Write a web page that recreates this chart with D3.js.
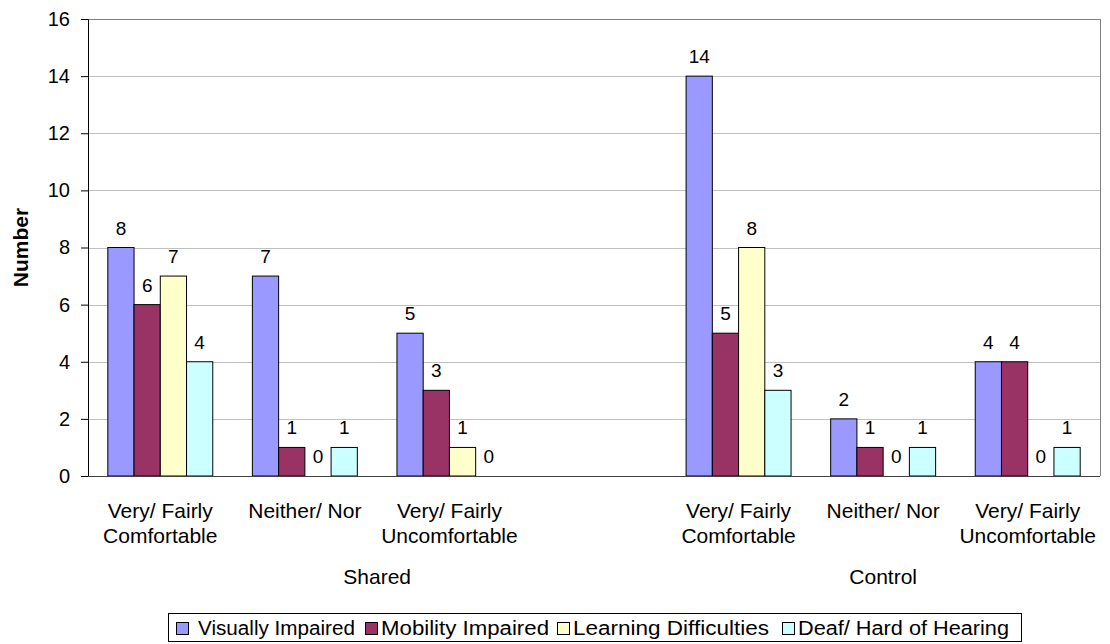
<!DOCTYPE html>
<html><head><meta charset="utf-8">
<script src="https://cdn.jsdelivr.net/npm/d3@7"></script>
<style>body{margin:0;background:#fff}svg{display:block;font-family:Arial,"Liberation Sans",sans-serif}</style>
</head><body><svg id="c" width="1110" height="644"></svg>
<script>
const categories = ["Very/ Fairly|Comfortable","Neither/ Nor","Very/ Fairly|Uncomfortable","","Very/ Fairly|Comfortable","Neither/ Nor","Very/ Fairly|Uncomfortable"];
const groups = ["Shared","Control"];
const groupSlots = [[0,3],[4,6]];
const seriesNames = ["Visually Impaired","Mobility Impaired","Learning Difficulties","Deaf/ Hard of Hearing"];
const visuallyImpaired = [8,7,5,null,14,2,4];
const mobilityImpaired = [6,1,3,null,5,1,4];
const learningDifficulties = [7,0,1,null,8,0,0];
const deafHardOfHearing = [4,1,0,null,3,1,1];
const yTicks = [0,2,4,6,8,10,12,14,16];
const colors = ["#9999FF","#993366","#FFFFCC","#CCFFFF"];

const seriesValues = [visuallyImpaired,mobilityImpaired,learningDifficulties,deafHardOfHearing];
const svg = d3.select("#c");
const L=88,R=1100,T=19,B=476;
const x0 = d3.scaleBand().domain(d3.range(categories.length)).range([L,R]).padding(0);
const x1 = d3.scaleBand().domain(d3.range(seriesNames.length)).range([0,x0.bandwidth()]).paddingInner(0).paddingOuter(0.755);
const y = d3.scaleLinear().domain([0,16]).range([B,T]);

// gridlines
svg.append("g").selectAll("line").data(yTicks.filter(d=>d>0)).join("line")
  .attr("x1",L).attr("x2",R).attr("y1",d=>Math.round(y(d))+0.5).attr("y2",d=>Math.round(y(d))+0.5)
  .attr("stroke",d=>d===16?"#808080":"#c0c0c0").attr("stroke-width",1);
svg.append("line").attr("x1",R+0.5).attr("x2",R+0.5).attr("y1",T).attr("y2",B).attr("stroke","#808080");

// bars
const barData=[];
seriesValues.forEach((arr,s)=>arr.forEach((v,i)=>{ if(v!==null) barData.push({s,i,v}); }));
svg.append("g").selectAll("rect").data(barData.filter(d=>d.v>0)).join("rect")
  .attr("x",d=>x0(d.i)+x1(d.s)).attr("width",x1.bandwidth())
  .attr("y",d=>y(d.v)).attr("height",d=>y(0)-y(d.v))
  .attr("fill",d=>colors[d.s]).attr("stroke","#000").attr("stroke-width",1);
svg.append("g").selectAll("text").data(barData).join("text")
  .attr("x",d=>x0(d.i)+x1(d.s)+x1.bandwidth()/2).attr("y",d=>y(d.v)-13)
  .attr("text-anchor","middle").attr("font-size",19).attr("fill","#000").text(d=>d.v);

// axes
const yAxis = d3.axisLeft(y).tickValues(yTicks).tickSize(7).tickPadding(11);
const gy = svg.append("g").attr("transform",`translate(${L},0)`).call(yAxis);
gy.select(".domain").attr("stroke","#000");
gy.selectAll(".tick line").attr("stroke","#000");
gy.selectAll("text").attr("font-size",20).attr("font-family","Arial,'Liberation Sans',sans-serif").attr("fill","#000");
svg.append("line").attr("x1",L).attr("x2",R).attr("y1",B+0.5).attr("y2",B+0.5).attr("stroke","#404040");

// category labels
const cl = svg.append("g").selectAll("text").data(categories.map((c,i)=>({c,i})).filter(d=>d.c)).join("text")
  .attr("x",d=>x0(d.i)+x0.bandwidth()/2).attr("y",518).attr("text-anchor","middle").attr("font-size",21).attr("fill","#000");
cl.selectAll("tspan").data(d=>d.c.split("|").map(t=>({t,x:x0(d.i)+x0.bandwidth()/2}))).join("tspan")
  .attr("x",d=>d.x).attr("dy",(d,j)=>j?24.5:0).text(d=>d.t);
// group labels
svg.append("g").selectAll("text").data(groups).join("text")
  .attr("x",(d,i)=>(x0(groupSlots[i][0])+x0(groupSlots[i][1])+x0.bandwidth())/2).attr("y",584)
  .attr("text-anchor","middle").attr("font-size",21).attr("fill","#000").text(d=>d);

// y title
svg.append("text").attr("transform",`translate(28,${(T+B)/2}) rotate(-90)`).attr("text-anchor","middle")
  .attr("font-size",21).attr("font-weight","bold").text("Number");

// legend
const lg = svg.append("g");
lg.append("rect").attr("x",168.5).attr("y",613.5).attr("width",853).attr("height",28).attr("fill","#fff").attr("stroke","#000");
const legendX = d3.scaleOrdinal().domain(d3.range(4)).range([176,365,557,782]);
const legendW = [157,168,196,211];
const items = lg.selectAll("g").data(seriesNames).join("g").attr("transform",(d,i)=>`translate(${legendX(i)},0)`);
items.append("rect").attr("x",0.5).attr("y",622.5).attr("width",12).attr("height",12).attr("fill",(d,i)=>colors[i]).attr("stroke","#000");
items.append("text").attr("x",(d,i)=>i===0?22:16).attr("y",635).attr("font-size",20).attr("fill","#000").text(d=>d)
  .attr("textLength",(d,i)=>legendW[i]).attr("lengthAdjust","spacingAndGlyphs");
</script></body></html>
